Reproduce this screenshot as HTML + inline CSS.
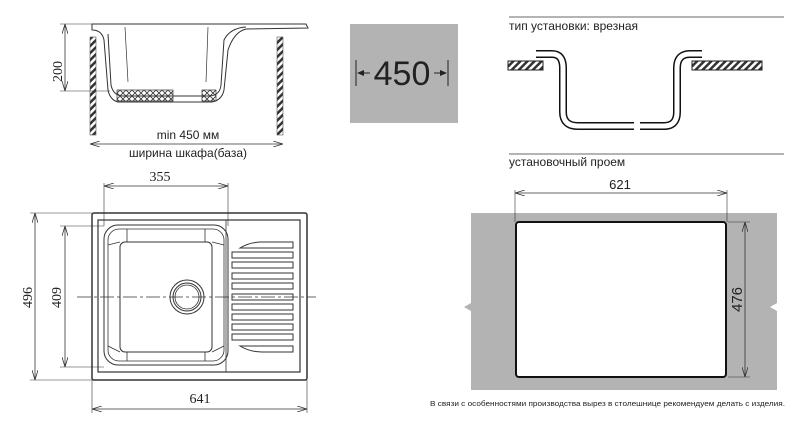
<!DOCTYPE html>
<html><head><meta charset="utf-8"><style>
html,body{margin:0;padding:0;background:#fff}
svg{display:block}
text{font-family:"Liberation Sans",sans-serif;fill:#222}
.s{font-family:"Liberation Serif",serif}
</style></head><body>
<svg width="809" height="428" viewBox="0 0 809 428" xmlns="http://www.w3.org/2000/svg">
<defs>
<pattern id="h" width="5" height="5" patternUnits="userSpaceOnUse" patternTransform="rotate(45)">
<rect width="5" height="5" fill="#fff"/><rect width="2.5" height="5" fill="#333"/></pattern>
<pattern id="x" width="6" height="6" patternUnits="userSpaceOnUse">
<path d="M0,0L6,6M6,0L0,6" stroke="#333" stroke-width="0.8"/></pattern>
<marker id="a" viewBox="0 0 10 6" refX="10" refY="3" markerWidth="10" markerHeight="6" orient="auto-start-reverse" markerUnits="userSpaceOnUse">
<path d="M0,0 L10,3 L0,6" fill="none" stroke="#333" stroke-width="0.8"/></marker>
</defs>

<!-- TOP LEFT: side section -->
<rect x="90" y="37" width="6" height="98" fill="url(#h)" stroke="#555" stroke-width="0.6"/>
<rect x="277" y="37" width="6" height="98" fill="url(#h)" stroke="#555" stroke-width="0.6"/>
<path d="M92,24 H306 L308,28 L246,29 Q234,32 228,50 L224,90 Q222,100 212,102 H118 Q110,100 108,90 L104,40 Q102,30 92,30 Z" fill="#fff" stroke="#333" stroke-width="1"/>
<path d="M108,34 L111,85 Q113,95 122,96 H210 Q220,95 221,85 L224,40 Q230,28 246,27" fill="none" stroke="#333" stroke-width="1"/>
<rect x="117" y="90" width="56" height="11" fill="url(#x)" stroke="#333" stroke-width="0.7"/>
<rect x="202" y="90" width="14" height="11" fill="url(#x)" stroke="#333" stroke-width="0.7"/>
<line x1="125" y1="27" x2="128" y2="82" stroke="#333" stroke-width="0.7"/>
<line x1="208" y1="27" x2="206" y2="82" stroke="#333" stroke-width="0.7"/>
<line x1="60" y1="24" x2="100" y2="24" stroke="#333" stroke-width="0.6"/>
<line x1="60" y1="91" x2="110" y2="91" stroke="#333" stroke-width="0.6"/>
<line x1="65" y1="24" x2="65" y2="91" stroke="#333" stroke-width="0.8" marker-start="url(#a)" marker-end="url(#a)"/>
<text class="s" x="0" y="0" font-size="14" transform="translate(62,82) rotate(-90)">200</text>
<line x1="90" y1="144" x2="283" y2="144" stroke="#333" stroke-width="0.8" marker-start="url(#a)" marker-end="url(#a)"/>
<text x="188" y="139" font-size="12" text-anchor="middle">min 450 мм</text>
<text x="188" y="157" font-size="12" text-anchor="middle">ширина шкафа(база)</text>

<!-- 450 box -->
<rect x="350" y="24" width="108" height="99" fill="#b3b3b3"/>
<line x1="356" y1="60" x2="356" y2="86" stroke="#222" stroke-width="1"/>
<line x1="448" y1="60" x2="448" y2="86" stroke="#222" stroke-width="1"/>
<path d="M357,73 L364,70 L364,76Z M447,73 L440,70 L440,76Z" fill="#222"/>
<line x1="364" y1="73" x2="370" y2="73" stroke="#222"/><line x1="434" y1="73" x2="440" y2="73" stroke="#222"/>
<text x="402" y="85" font-size="34" text-anchor="middle">450</text>

<!-- TOP VIEW -->
<rect x="92" y="213" width="215" height="167" rx="2" fill="#fff" stroke="#333" stroke-width="1.5"/>
<rect x="98" y="220" width="202" height="152" fill="none" stroke="#333" stroke-width="1.2"/>
<rect x="104" y="225" width="124" height="140" rx="14" fill="none" stroke="#333" stroke-width="1"/>
<rect x="108" y="229" width="116" height="132" rx="11" fill="none" stroke="#333" stroke-width="0.8"/>
<rect x="120" y="242" width="92" height="110" rx="5" fill="none" stroke="#333" stroke-width="1"/>
<path d="M108,245 L120,242 M127,229 L127,242 M224,245 L212,242 M205,229 L205,242 M108,346 L120,352 M127,361 L127,352 M224,346 L212,352 M205,361 L205,352" stroke="#333" stroke-width="0.8"/>
<line x1="226" y1="220" x2="226" y2="372" stroke="#333" stroke-width="0.8"/>
<circle cx="187" cy="297" r="17" fill="none" stroke="#333" stroke-width="1"/>
<circle cx="187" cy="297" r="14" fill="none" stroke="#333" stroke-width="1"/>
<circle cx="187" cy="297" r="12" fill="none" stroke="#333" stroke-width="0.8"/>
<g fill="none" stroke="#333" stroke-width="1">
<path d="M240,248 Q250,242 262,242 H293 V248 Z"/>
<rect x="232" y="252" width="61" height="6"/><rect x="232" y="262" width="61" height="6"/>
<rect x="232" y="273" width="61" height="6"/><rect x="232" y="283" width="61" height="6"/>
<rect x="232" y="294" width="61" height="6"/><rect x="232" y="304" width="61" height="6"/>
<rect x="232" y="314" width="61" height="6"/><rect x="232" y="324" width="61" height="6"/>
<rect x="232" y="334" width="61" height="6"/>
<path d="M240,346 Q250,352 262,352 H293 V346 Z"/>
</g>
<line x1="77" y1="297" x2="316" y2="297" stroke="#333" stroke-width="0.8" stroke-dasharray="14,3,3,3"/>
<!-- dims -->
<line x1="104" y1="183" x2="104" y2="226" stroke="#333" stroke-width="0.6"/>
<line x1="228" y1="183" x2="228" y2="226" stroke="#333" stroke-width="0.6"/>
<line x1="104" y1="186" x2="228" y2="186" stroke="#333" stroke-width="0.8" marker-start="url(#a)" marker-end="url(#a)"/>
<text class="s" x="160" y="181" font-size="14" text-anchor="middle">355</text>
<line x1="30" y1="213" x2="92" y2="213" stroke="#333" stroke-width="0.6"/>
<line x1="30" y1="380" x2="92" y2="380" stroke="#333" stroke-width="0.6"/>
<line x1="35" y1="213" x2="35" y2="380" stroke="#333" stroke-width="0.8" marker-start="url(#a)" marker-end="url(#a)"/>
<text class="s" x="0" y="0" font-size="14" transform="translate(32,308) rotate(-90)">496</text>
<line x1="60" y1="226" x2="104" y2="226" stroke="#333" stroke-width="0.6"/>
<line x1="60" y1="367" x2="104" y2="367" stroke="#333" stroke-width="0.6"/>
<line x1="65" y1="226" x2="65" y2="367" stroke="#333" stroke-width="0.8" marker-start="url(#a)" marker-end="url(#a)"/>
<text class="s" x="0" y="0" font-size="14" transform="translate(61,308) rotate(-90)">409</text>
<line x1="92" y1="380" x2="92" y2="413" stroke="#333" stroke-width="0.6"/>
<line x1="307" y1="380" x2="307" y2="413" stroke="#333" stroke-width="0.6"/>
<line x1="92" y1="409" x2="307" y2="409" stroke="#333" stroke-width="0.8" marker-start="url(#a)" marker-end="url(#a)"/>
<text class="s" x="200" y="403" font-size="14" text-anchor="middle">641</text>

<!-- TOP RIGHT: mounting type -->
<line x1="509" y1="17" x2="784" y2="17" stroke="#888" stroke-width="1.2"/>
<text x="509" y="30" font-size="12">тип установки: врезная</text>
<rect x="508" y="61" width="35" height="9" fill="url(#h)" stroke="#222" stroke-width="1"/>
<rect x="692" y="61" width="70" height="9" fill="url(#h)" stroke="#222" stroke-width="1"/>
<g fill="none" stroke-linecap="butt" stroke-linejoin="round">
<path d="M536,54 H552 Q563,54 563,68 V112 Q563,126 578,126 H634" stroke="#111" stroke-width="8"/>
<path d="M536,54 H552 Q563,54 563,68 V112 Q563,126 578,126 H634" stroke="#fff" stroke-width="5"/>
<path d="M640,126 H664 Q677,126 677,112 V68 Q677,54 690,54 H702" stroke="#111" stroke-width="8"/>
<path d="M640,126 H664 Q677,126 677,112 V68 Q677,54 690,54 H702" stroke="#fff" stroke-width="5"/>
</g>

<!-- cutout -->
<line x1="509" y1="154" x2="784" y2="154" stroke="#888" stroke-width="1.2"/>
<text x="509" y="166" font-size="12">установочный проем</text>
<path d="M471,213 H777 V303 L770,307 L777,311 V390 H471 V311 L464,307 L471,303 Z" fill="#b3b3b3"/>
<rect x="516" y="222" width="210" height="155" rx="3" fill="#fff" stroke="#111" stroke-width="2"/>
<line x1="515" y1="190" x2="515" y2="222" stroke="#333" stroke-width="0.6"/>
<line x1="727" y1="190" x2="727" y2="222" stroke="#333" stroke-width="0.6"/>
<line x1="515" y1="193" x2="727" y2="193" stroke="#333" stroke-width="0.8" marker-start="url(#a)" marker-end="url(#a)"/>
<text x="620" y="189" font-size="13" text-anchor="middle">621</text>
<line x1="728" y1="222" x2="750" y2="222" stroke="#333" stroke-width="0.6"/>
<line x1="728" y1="377" x2="750" y2="377" stroke="#333" stroke-width="0.6"/>
<line x1="745" y1="222" x2="745" y2="377" stroke="#333" stroke-width="0.8" marker-start="url(#a)" marker-end="url(#a)"/>
<text x="0" y="0" font-size="15" transform="translate(742,312) rotate(-90)">476</text>
<text x="430" y="406" font-size="7.6" fill="#333" textLength="355" lengthAdjust="spacingAndGlyphs">В связи с особенностями производства вырез в столешнице рекомендуем делать с изделия.</text>
</svg>
</body></html>
